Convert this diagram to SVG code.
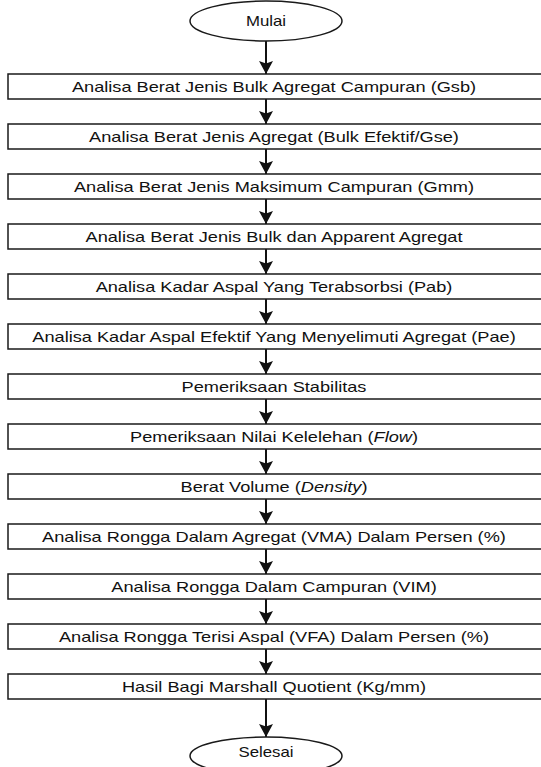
<svg xmlns="http://www.w3.org/2000/svg" width="541" height="767" viewBox="0 0 541 767">
<style>
.box{fill:#fff;stroke:#1a1a1a;stroke-width:1.5}
.term{fill:#fff;stroke:#1a1a1a;stroke-width:1.5}
.t{font-family:"Liberation Sans",Arial,sans-serif;font-size:14px;fill:#111;text-anchor:middle}
.c{stroke:#111;stroke-width:2;fill:none;marker-end:url(#ah)}
</style>
<defs>
<marker id="ah" markerWidth="14" markerHeight="14" viewBox="0 0 14 14" refX="13" refY="7" orient="auto" markerUnits="userSpaceOnUse">
<path d="M0,0 L13,7 L0,14 L2.5,7 Z" fill="#111"/>
</marker>
</defs>
<rect width="541" height="767" fill="#fff"/>
<g id="connectors">
<line class="c" x1="266" y1="41" x2="266" y2="74"/>
<line class="c" x1="266" y1="99" x2="266" y2="124"/>
<line class="c" x1="266" y1="149" x2="266" y2="174"/>
<line class="c" x1="266" y1="199" x2="266" y2="224"/>
<line class="c" x1="266" y1="249" x2="266" y2="274"/>
<line class="c" x1="266" y1="299" x2="266" y2="324"/>
<line class="c" x1="266" y1="349" x2="266" y2="374"/>
<line class="c" x1="266" y1="399" x2="266" y2="424"/>
<line class="c" x1="266" y1="449" x2="266" y2="474"/>
<line class="c" x1="266" y1="499" x2="266" y2="524"/>
<line class="c" x1="266" y1="549" x2="266" y2="574"/>
<line class="c" x1="266" y1="599" x2="266" y2="624"/>
<line class="c" x1="266" y1="649" x2="266" y2="674"/>
<line class="c" x1="266" y1="699" x2="266" y2="737"/>
</g>
<g id="start"><ellipse class="term" cx="266" cy="21" rx="76" ry="20"/><text class="t" transform="translate(266,26) scale(1.2,1)">Mulai</text></g>
<g id="n1"><rect class="box" x="8" y="74" width="540" height="25"/><text class="t" transform="translate(274,91.5) scale(1.3,1)">Analisa Berat Jenis Bulk Agregat Campuran (Gsb)</text></g>
<g id="n2"><rect class="box" x="8" y="124" width="540" height="25"/><text class="t" transform="translate(274,141.5) scale(1.3,1)">Analisa Berat Jenis Agregat (Bulk Efektif/Gse)</text></g>
<g id="n3"><rect class="box" x="8" y="174" width="540" height="25"/><text class="t" transform="translate(274,191.5) scale(1.3,1)">Analisa Berat Jenis Maksimum Campuran (Gmm)</text></g>
<g id="n4"><rect class="box" x="8" y="224" width="540" height="25"/><text class="t" transform="translate(274,241.5) scale(1.3,1)">Analisa Berat Jenis Bulk dan Apparent Agregat</text></g>
<g id="n5"><rect class="box" x="8" y="274" width="540" height="25"/><text class="t" transform="translate(274,291.5) scale(1.3,1)">Analisa Kadar Aspal Yang Terabsorbsi (Pab)</text></g>
<g id="n6"><rect class="box" x="8" y="324" width="540" height="25"/><text class="t" transform="translate(274,341.5) scale(1.3,1)">Analisa Kadar Aspal Efektif Yang Menyelimuti Agregat (Pae)</text></g>
<g id="n7"><rect class="box" x="8" y="374" width="540" height="25"/><text class="t" transform="translate(274,391.5) scale(1.3,1)">Pemeriksaan Stabilitas</text></g>
<g id="n8"><rect class="box" x="8" y="424" width="540" height="25"/><text class="t" transform="translate(274,441.5) scale(1.3,1)">Pemeriksaan Nilai Kelelehan (<tspan font-style="italic">Flow</tspan>)</text></g>
<g id="n9"><rect class="box" x="8" y="474" width="540" height="25"/><text class="t" transform="translate(274,491.5) scale(1.3,1)">Berat Volume (<tspan font-style="italic">Density</tspan>)</text></g>
<g id="n10"><rect class="box" x="8" y="524" width="540" height="25"/><text class="t" transform="translate(274,541.5) scale(1.3,1)">Analisa Rongga Dalam Agregat (VMA) Dalam Persen (%)</text></g>
<g id="n11"><rect class="box" x="8" y="574" width="540" height="25"/><text class="t" transform="translate(274,591.5) scale(1.3,1)">Analisa Rongga Dalam Campuran (VIM)</text></g>
<g id="n12"><rect class="box" x="8" y="624" width="540" height="25"/><text class="t" transform="translate(274,641.5) scale(1.3,1)">Analisa Rongga Terisi Aspal (VFA) Dalam Persen (%)</text></g>
<g id="n13"><rect class="box" x="8" y="674" width="540" height="25"/><text class="t" transform="translate(274,691.5) scale(1.3,1)">Hasil Bagi Marshall Quotient (Kg/mm)</text></g>
<g id="end"><ellipse class="term" cx="266" cy="756" rx="76" ry="19"/><text class="t" transform="translate(266,757) scale(1.2,1)">Selesai</text></g>
</svg>
